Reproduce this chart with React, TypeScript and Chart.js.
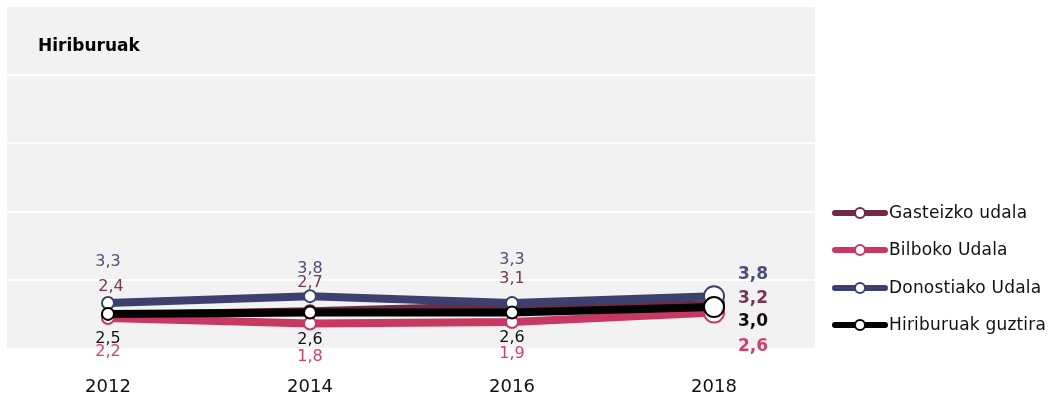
import React, { useEffect, useRef } from "react";
import { Chart, registerables } from "chart.js";

Chart.register(...registerables);

const years = ["2012", "2014", "2016", "2018"];
const seriesNames = ["Gasteizko udala", "Bilboko Udala", "Donostiako Udala", "Hiriburuak guztira"];
const gasteiz = [2.4, 2.7, 3.1, 3.2];
const bilbo = [2.2, 1.8, 1.9, 2.6];
const donostia = [3.3, 3.8, 3.3, 3.8];
const guztira = [2.5, 2.6, 2.6, 3.0];
const yTicks = [0, 5, 10, 15, 20, 25];

const colors = ["#6e2a47", "#c93862", "#3b406d", "#000000"];
const labelColors = ["#7a3654", "#d2406c", "#4a4f7c", "#111111"];
// label vertical offsets (px) per series per point
const labelDy = [
  [-28, -28, -27, -6],
  [34, 33, 32, 34],
  [-41, -27, -43, -22],
  [25, 27, 25, 14],
];
const FONT = "'DejaVu Sans', sans-serif";

const fmt = (v: number) => v.toFixed(1).replace(".", ",");

const plotPlugin = {
  id: "plotDeco",
  beforeDatasetsDraw(chart: any) {
    const { ctx, chartArea } = chart;
    const ys = chart.scales.y;
    ctx.save();
    ctx.fillStyle = "#f2f2f2";
    ctx.fillRect(chartArea.left, chartArea.top, chartArea.right - chartArea.left, chartArea.bottom - chartArea.top);
    ctx.strokeStyle = "#ffffff";
    ctx.lineWidth = 2;
    yTicks.forEach((v) => {
      const y = Math.round(ys.getPixelForValue(v));
      if (v === yTicks[0] || v === yTicks[yTicks.length - 1]) return;
      ctx.beginPath();
      ctx.moveTo(chartArea.left, y);
      ctx.lineTo(chartArea.right, y);
      ctx.stroke();
    });
    ctx.restore();
  },
  afterDraw(chart: any) {
    const { ctx, chartArea } = chart;
    ctx.save();
    // title
    ctx.fillStyle = "#000";
    ctx.font = `bold 17px ${FONT}`;
    ctx.textAlign = "left";
    ctx.textBaseline = "middle";
    ctx.fillText("Hiriburuak", chartArea.left + 31, 47);

    // data labels
    chart.data.datasets.forEach((ds: any, di: number) => {
      const meta = chart.getDatasetMeta(di);
      meta.data.forEach((pt: any, i: number) => {
        const last = i === meta.data.length - 1;
        ctx.fillStyle = labelColors[di];
        ctx.font = last ? `bold 17px ${FONT}` : `16px ${FONT}`;
        ctx.textAlign = "center";
        ctx.textBaseline = "middle";
        const x = last ? pt.x + 39 : pt.x + (di === 0 && i === 0 ? 3 : 0);
        ctx.fillText(fmt(ds.data[i]), x, pt.y + labelDy[di][i]);
      });
    });

    // legend
    const lx = chartArea.right + 17;
    const rows = [213, 250, 288, 325];
    seriesNames.forEach((name, i) => {
      const y = rows[i];
      ctx.strokeStyle = colors[i];
      ctx.lineWidth = 6;
      ctx.lineCap = "round";
      ctx.beginPath();
      ctx.moveTo(lx + 3, y);
      ctx.lineTo(lx + 53, y);
      ctx.stroke();
      ctx.beginPath();
      ctx.arc(lx + 28, y, 5, 0, Math.PI * 2);
      ctx.fillStyle = "#fff";
      ctx.fill();
      ctx.lineWidth = 2;
      ctx.stroke();
      ctx.fillStyle = "#111";
      ctx.font = `17px ${FONT}`;
      (ctx as any).letterSpacing = "0.2px";
      ctx.textAlign = "left";
      ctx.textBaseline = "middle";
      ctx.fillText(name, lx + 57, y + 1);
      (ctx as any).letterSpacing = "0px";
    });
    ctx.restore();
  },
};

export default function App() {
  const ref = useRef<HTMLCanvasElement>(null);
  useEffect(() => {
    if (!ref.current) return;
    const values = [gasteiz, bilbo, donostia, guztira];
    const chart = new Chart(ref.current, {
      type: "line",
      data: {
        labels: years,
        datasets: values.map((d, i) => ({
          label: seriesNames[i],
          data: d,
          borderColor: colors[i],
          backgroundColor: colors[i],
          borderWidth: 8,
          pointRadius: [6, 6, 6, 10],
          pointBorderWidth: 2,
          pointBackgroundColor: "#ffffff",
          pointBorderColor: colors[i],
          tension: 0,
          order: i === 3 ? 0 : i === 2 ? 1 : i === 1 ? 2 : 3,
        })),
      },
      options: {
        animation: false,
        responsive: true,
        maintainAspectRatio: false,
        layout: { autoPadding: false, padding: { left: 7, top: 7, right: 240, bottom: 0 } },
        plugins: { legend: { display: false }, tooltip: { enabled: false } },
        scales: {
          x: {
            type: "category",
            offset: true,
            grid: { display: false, drawTicks: false },
            border: { display: false },
            ticks: { color: "#111", font: { family: FONT, size: 18 }, padding: 29 },
            afterFit: (s: any) => { s.height = 57; },
          },
          y: {
            display: false,
            min: yTicks[0],
            max: yTicks[yTicks.length - 1],
          },
        },
      },
      plugins: [plotPlugin],
    } as any);
    return () => chart.destroy();
  }, []);
  return (
    <div style={{ position: "fixed", left: 0, top: 0, width: 1055, height: 405, background: "#fff" }}>
      <canvas ref={ref} />
    </div>
  );
}
